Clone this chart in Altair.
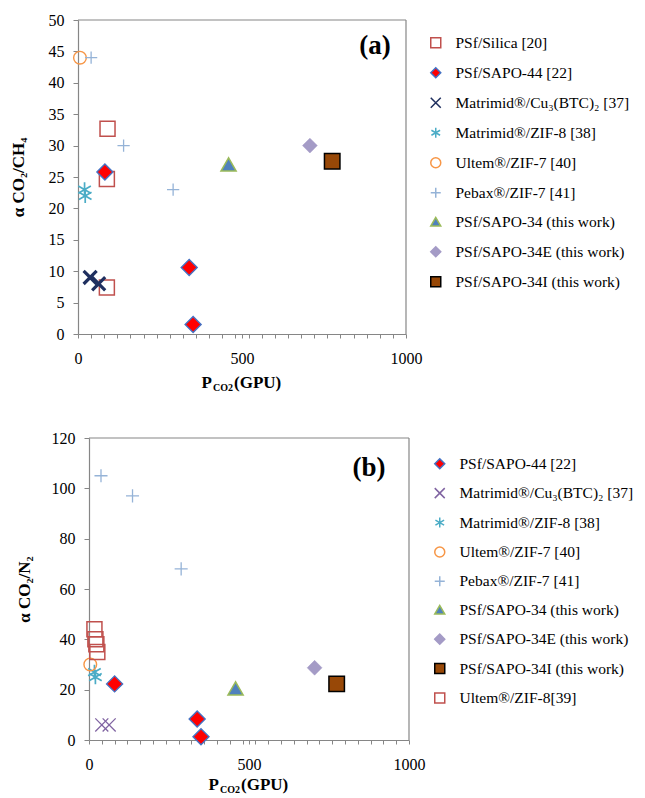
import altair as alt
import pandas as pd

# ---------------- panel (a): CO2/CH4 ----------------
A_NAMES = ["PSf/Silica [20]", "PSf/SAPO-44 [22]", "Matrimid®/Cu₃(BTC)₂ [37]",
           "Matrimid®/ZIF-8 [38]", "Ultem®/ZIF-7 [40]", "Pebax®/ZIF-7 [41]",
           "PSf/SAPO-34 (this work)", "PSf/SAPO-34E (this work)", "PSf/SAPO-34I (this work)"]
a_silica_x = [90, 88, 88]
a_silica_y = [32.7, 24.7, 7.4]
a_sapo44_x = [82, 339, 351]
a_sapo44_y = [25.8, 10.6, 1.5]
a_cubtc_x = [37, 63]
a_cubtc_y = [9, 8]
a_zif8_x = [20, 22]
a_zif8_y = [23, 22]
a_ultem7_x = [6]
a_ultem7_y = [44]
a_pebax_x = [40, 139, 290]
a_pebax_y = [44, 30, 23]
a_sapo34_x = [459]
a_sapo34_y = [27]
a_sapo34e_x = [707]
a_sapo34e_y = [30]
a_sapo34i_x = [775]
a_sapo34i_y = [27.5]

# ---------------- panel (b): CO2/N2 ----------------
B_NAMES = ["PSf/SAPO-44 [22]", "Matrimid®/Cu₃(BTC)₂ [37]", "Matrimid®/ZIF-8 [38]",
           "Ultem®/ZIF-7 [40]", "Pebax®/ZIF-7 [41]", "PSf/SAPO-34 (this work)",
           "PSf/SAPO-34E (this work)", "PSf/SAPO-34I (this work)", "Ultem®/ZIF-8[39]"]
b_sapo44_x = [80, 338, 350]
b_sapo44_y = [22.3, 8.3, 1.3]
b_cubtc_x = [40, 63]
b_cubtc_y = [6, 6]
b_zif8_x = [17, 20]
b_zif8_y = [27, 25]
b_ultem7_x = [4]
b_ultem7_y = [30]
b_pebax_x = [37.5, 136, 288]
b_pebax_y = [105, 97, 68]
b_sapo34_x = [458]
b_sapo34_y = [20.5]
b_sapo34e_x = [705]
b_sapo34e_y = [28.7]
b_sapo34i_x = [774]
b_sapo34i_y = [22.3]
b_ultem8_x = [17, 20, 23, 26]
b_ultem8_y = [44, 40, 38, 35]

X_TICKS = sorted(set(list(range(0, 1000, 40)) + [500, 1000]))
X_TITLE = ["P", "CO2", "(GPU)"]
A_YTITLE = "α CO₂/CH₄"
B_YTITLE = "α CO₂/N₂"

a_data = [(a_silica_x, a_silica_y), (a_sapo44_x, a_sapo44_y), (a_cubtc_x, a_cubtc_y),
          (a_zif8_x, a_zif8_y), (a_ultem7_x, a_ultem7_y), (a_pebax_x, a_pebax_y),
          (a_sapo34_x, a_sapo34_y), (a_sapo34e_x, a_sapo34e_y), (a_sapo34i_x, a_sapo34i_y)]
b_data = [(b_sapo44_x, b_sapo44_y), (b_cubtc_x, b_cubtc_y), (b_zif8_x, b_zif8_y),
          (b_ultem7_x, b_ultem7_y), (b_pebax_x, b_pebax_y), (b_sapo34_x, b_sapo34_y),
          (b_sapo34e_x, b_sapo34e_y), (b_sapo34i_x, b_sapo34i_y), (b_ultem8_x, b_ultem8_y)]

# ---------------- styles ----------------
XPATH = "M-1,-1L1,1M-1,1L1,-1"
STAR = "M0,-1L0,1M-0.87,-0.5L0.87,0.5M-0.87,0.5L0.87,-0.5"
PLUS = "M-1,0L1,0M0,-1L0,1"
T = "transparent"
# shape, fill, stroke, size, strokeWidth
A_STYLE = {
    A_NAMES[0]: ("square", T, "#C0504D", 225, 1.5),
    A_NAMES[1]: ("diamond", "#FF0000", "#4472C4", 256, 1.4),
    A_NAMES[2]: (XPATH, T, "#1F2F5F", 170, 3.2),
    A_NAMES[3]: (STAR, T, "#4BACC6", 210, 1.7),
    A_NAMES[4]: ("circle", T, "#F79646", 160, 1.4),
    A_NAMES[5]: (PLUS, T, "#95B3D7", 150, 1.3),
    A_NAMES[6]: ("triangle-up", "#4F81BD", "#9BBB59", 230, 1.5),
    A_NAMES[7]: ("diamond", "#A49BC6", "#A49BC6", 220, 0.5),
    A_NAMES[8]: ("square", "#984807", "#000000", 240, 1.5),
}
B_STYLE = {
    B_NAMES[0]: ("diamond", "#FF0000", "#4472C4", 256, 1.4),
    B_NAMES[1]: (XPATH, T, "#8064A2", 170, 1.3),
    B_NAMES[2]: (STAR, T, "#4BACC6", 210, 1.7),
    B_NAMES[3]: ("circle", T, "#F79646", 160, 1.4),
    B_NAMES[4]: (PLUS, T, "#95B3D7", 170, 1.3),
    B_NAMES[5]: ("triangle-up", "#4F81BD", "#9BBB59", 230, 1.5),
    B_NAMES[6]: ("diamond", "#A49BC6", "#A49BC6", 220, 0.5),
    B_NAMES[7]: ("square", "#984807", "#000000", 240, 1.5),
    B_NAMES[8]: ("square", T, "#C0504D", 225, 1.5),
}

FONT = "Liberation Serif"
GRAY = "#868686"


def make_df(names, data):
    rows = []
    for n, (xs, ys) in zip(names, data):
        for xv, yv in zip(xs, ys):
            rows.append({"series": n, "x": xv, "y": yv})
    return pd.DataFrame(rows)


def panel(names, data, style, D, W, H, ymax, ystep, ytitle, tpad, tag, tagx, tagy,
          legx, legy, legrow, xt_off):
    """D = left inset of the plotting frame inside the view (px)."""
    df = make_df(names, data)
    leg = alt.Legend(title=None, orient="none", legendX=legx, legendY=legy, rowPadding=legrow)
    shape_sc = alt.Scale(domain=names, range=[style[n][0] for n in names])
    fill_sc = alt.Scale(domain=names, range=[style[n][1] for n in names])
    stroke_sc = alt.Scale(domain=names, range=[style[n][2] for n in names])
    xaxis = alt.Axis(values=X_TICKS,
                     labelExpr="datum.value % 500 == 0 ? '' + datum.value : ''",
                     title=None, tickSize=4, labelOverlap=False, labelFlush=False,
                     labelPadding=12, labelFont=FONT)
    yaxis_kw = dict(values=list(range(0, ymax + 1, ystep)), title=ytitle, tickSize=5,
                    labelPadding=9, titlePadding=tpad, labelFont=FONT)
    if D:
        yaxis_kw["offset"] = -D
    yaxis = alt.Axis(**yaxis_kw)
    xscale = alt.Scale(domain=[0, 1000], nice=False, range=[D, D + W])
    layers = []
    for n in names:
        sh, fi, st, sz, sw = style[n]
        layers.append(
            alt.Chart(df).transform_filter(alt.FieldEqualPredicate(field="series", equal=n))
            .mark_point(filled=True, opacity=1, size=sz, strokeWidth=sw)
            .encode(
                x=alt.X("x:Q", scale=xscale, axis=xaxis),
                y=alt.Y("y:Q", scale=alt.Scale(domain=[0, ymax], nice=False), axis=yaxis),
                shape=alt.Shape("series:N", scale=shape_sc, legend=leg),
                fill=alt.Fill("series:N", scale=fill_sc, legend=leg),
                stroke=alt.Stroke("series:N", scale=stroke_sc, legend=leg),
            )
        )
    one = pd.DataFrame({"k": [0]})
    top = alt.Chart(one).mark_rule(color=GRAY, strokeWidth=1.2).encode(
        x=alt.value(D), x2=alt.value(D + W), y=alt.value(0))
    right = alt.Chart(one).mark_rule(color=GRAY, strokeWidth=1.2).encode(
        x=alt.value(D + W), y=alt.value(0), y2=alt.value(H))
    cx = D + W / 2
    t1 = alt.Chart(pd.DataFrame({"t": [X_TITLE[0]]})).mark_text(
        font=FONT, fontSize=17, fontWeight="bold", align="right", baseline="alphabetic"
    ).encode(x=alt.value(cx - 30), y=alt.value(H + xt_off), text="t:N")
    t2 = alt.Chart(pd.DataFrame({"t": [X_TITLE[1]]})).mark_text(
        font=FONT, fontSize=10, fontWeight="bold", align="left", baseline="alphabetic"
    ).encode(x=alt.value(cx - 29), y=alt.value(H + xt_off + 3), text="t:N")
    t3 = alt.Chart(pd.DataFrame({"t": [X_TITLE[2]]})).mark_text(
        font=FONT, fontSize=17, fontWeight="bold", align="left", baseline="alphabetic"
    ).encode(x=alt.value(cx - 8), y=alt.value(H + xt_off), text="t:N")
    tg = alt.Chart(pd.DataFrame({"t": [tag]})).mark_text(
        font=FONT, fontSize=27, fontWeight="bold", align="center", baseline="middle"
    ).encode(x=alt.value(tagx), y=alt.value(tagy), text="t:N")
    return alt.layer(top, right, *layers, t1, t2, t3, tg).properties(width=D + W, height=H)


pa = panel(A_NAMES, a_data, A_STYLE, 0, 328, 314, 50, 5, A_YTITLE, 21, "(a)", 297, 26,
           350, 15, 12, 54)
pb = panel(B_NAMES, b_data, B_STYLE, 11, 320, 302, 120, 20, B_YTITLE, 18, "(b)", 291, 30,
           354, 18, 11.4, 50)

chart = alt.vconcat(pa, pb, spacing=35).resolve_scale(
    x="independent", y="independent", shape="independent", fill="independent",
    stroke="independent").resolve_legend(shape="independent", fill="independent",
                                         stroke="independent").properties(
    padding={"left": 0, "top": 3, "right": 0, "bottom": 0}
).configure(font=FONT).configure_view(stroke="transparent").configure_axis(
    labelFont=FONT, labelFontSize=16, labelColor="black", titleFont=FONT, titleFontSize=17,
    titleFontWeight="bold", titleColor="black", domainColor=GRAY, tickColor=GRAY,
    domainWidth=1.2, grid=False
).configure_legend(
    padding=0, labelFont=FONT, labelFontSize=15.5,
    labelColor="black", symbolSize=100, symbolStrokeWidth=1.5, labelOffset=12,
    labelLimit=400
)

chart.save("out.html", embed_options={"renderer": "svg", "actions": False})
